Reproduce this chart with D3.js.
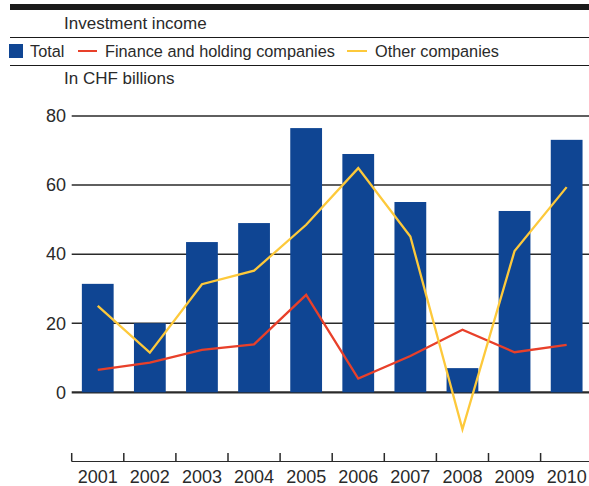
<!DOCTYPE html>
<html>
<head>
<meta charset="utf-8">
<script src="https://cdn.jsdelivr.net/npm/d3@7"></script>
<style>
  body { margin: 0; background: #fff; }
  svg { display: block; font-family: "Liberation Sans", Arial, sans-serif; }
</style>
</head>
<body>
<div id="viz"></div>
<script>
const years = ["2001", "2002", "2003", "2004", "2005", "2006", "2007", "2008", "2009", "2010"];
const total = [31.4, 20.0, 43.5, 49.0, 76.5, 69.0, 55.1, 7.0, 52.5, 73.1];
const finance = [6.5, 8.6, 12.3, 13.9, 28.2, 4.0, 10.5, 18.1, 11.6, 13.7];
const other = [25.0, 11.5, 31.3, 35.2, 48.5, 64.9, 45.1, -10.7, 40.9, 59.4];
const yTicks = [0, 20, 40, 60, 80];

const width = 589, height = 486;
const blue = "#0f4593", red = "#e8402a", yellow = "#fdc93b", ink = "#2a2a2a";

const svg = d3.select("#viz").append("svg")
    .attr("width", width)
    .attr("height", height);

// header
svg.append("rect").attr("x", 10).attr("y", 4).attr("width", width - 10).attr("height", 6).attr("fill", "#1a1a1a");
svg.append("text").attr("x", 64).attr("y", 29).attr("font-size", 17).attr("fill", ink).text("Investment income");
svg.append("line").attr("x1", 10).attr("x2", width).attr("y1", 37.5).attr("y2", 37.5).attr("stroke", "#1a1a1a").attr("stroke-width", 1.2);
svg.append("line").attr("x1", 10).attr("x2", width).attr("y1", 65.5).attr("y2", 65.5).attr("stroke", "#1a1a1a").attr("stroke-width", 1.2);
svg.append("text").attr("x", 64).attr("y", 84).attr("font-size", 17).attr("fill", ink).text("In CHF billions");

// legend
const lg = svg.append("g").attr("font-size", 16.3).attr("fill", ink);
lg.append("rect").attr("x", 9).attr("y", 44).attr("width", 14).attr("height", 14).attr("fill", blue);
lg.append("text").attr("x", 30).attr("y", 57).text("Total");
lg.append("line").attr("x1", 78).attr("x2", 97).attr("y1", 51).attr("y2", 51).attr("stroke", red).attr("stroke-width", 2);
lg.append("text").attr("x", 105).attr("y", 57).text("Finance and holding companies");
lg.append("line").attr("x1", 347).attr("x2", 367).attr("y1", 51).attr("y2", 51).attr("stroke", yellow).attr("stroke-width", 2);
lg.append("text").attr("x", 375).attr("y", 57).text("Other companies");

// scales
const x = d3.scaleBand().domain(years).range([71.7, 592.7]).paddingInner(0.39).paddingOuter(0.195);
const xb = d3.scaleBand().domain(years).range([71.7, 592.7]);
const y = d3.scaleLinear().domain([0, 80]).range([392.3, 116]);

// gridlines
const grid = svg.append("g");
grid.selectAll("line").data(yTicks).join("line")
    .attr("x1", 71.7).attr("x2", width)
    .attr("y1", d => y(d)).attr("y2", d => y(d))
    .attr("stroke", ink)
    .attr("stroke-width", d => d === 0 ? 2.2 : 1.5);
grid.selectAll("text").data(yTicks).join("text")
    .attr("x", 66).attr("y", d => y(d)).attr("dy", "0.35em")
    .attr("text-anchor", "end").attr("font-size", 18).attr("fill", ink)
    .text(d => d);

// bars
svg.append("g").selectAll("rect").data(years).join("rect")
    .attr("x", d => x(d))
    .attr("width", x.bandwidth())
    .attr("y", (d, i) => y(Math.max(0, total[i])))
    .attr("height", (d, i) => Math.abs(y(total[i]) - y(0)))
    .attr("fill", blue);

// lines
const line = d3.line().x((d, i) => xb(years[i]) + xb.bandwidth() / 2).y(d => y(d));
svg.append("path").datum(finance).attr("d", line).attr("fill", "none").attr("stroke", red).attr("stroke-width", 2.3);
svg.append("path").datum(other).attr("d", line).attr("fill", "none").attr("stroke", yellow).attr("stroke-width", 2.3);

// x axis
const xAxis = d3.axisBottom(xb).tickSize(0).tickFormat(d => d);
const axisY = 461.5;
const ax = svg.append("g").attr("transform", `translate(0,${axisY})`);
ax.append("line").attr("x1", 71.7).attr("x2", width).attr("stroke", ink).attr("stroke-width", 1.2);
ax.selectAll("line.tick").data(years).join("line").attr("class", "tick")
    .attr("x1", d => xb(d)).attr("x2", d => xb(d))
    .attr("y1", -8.5).attr("y2", 0)
    .attr("stroke", ink).attr("stroke-width", 1.5);
const labels = svg.append("g").attr("transform", `translate(0,${axisY})`).call(xAxis);
labels.select(".domain").remove();
labels.selectAll("text").attr("font-size", 18).attr("fill", ink)
    .attr("y", 21.3).attr("dy", 0)
    .attr("font-family", "Liberation Sans, Arial, sans-serif");
</script>
</body>
</html>
